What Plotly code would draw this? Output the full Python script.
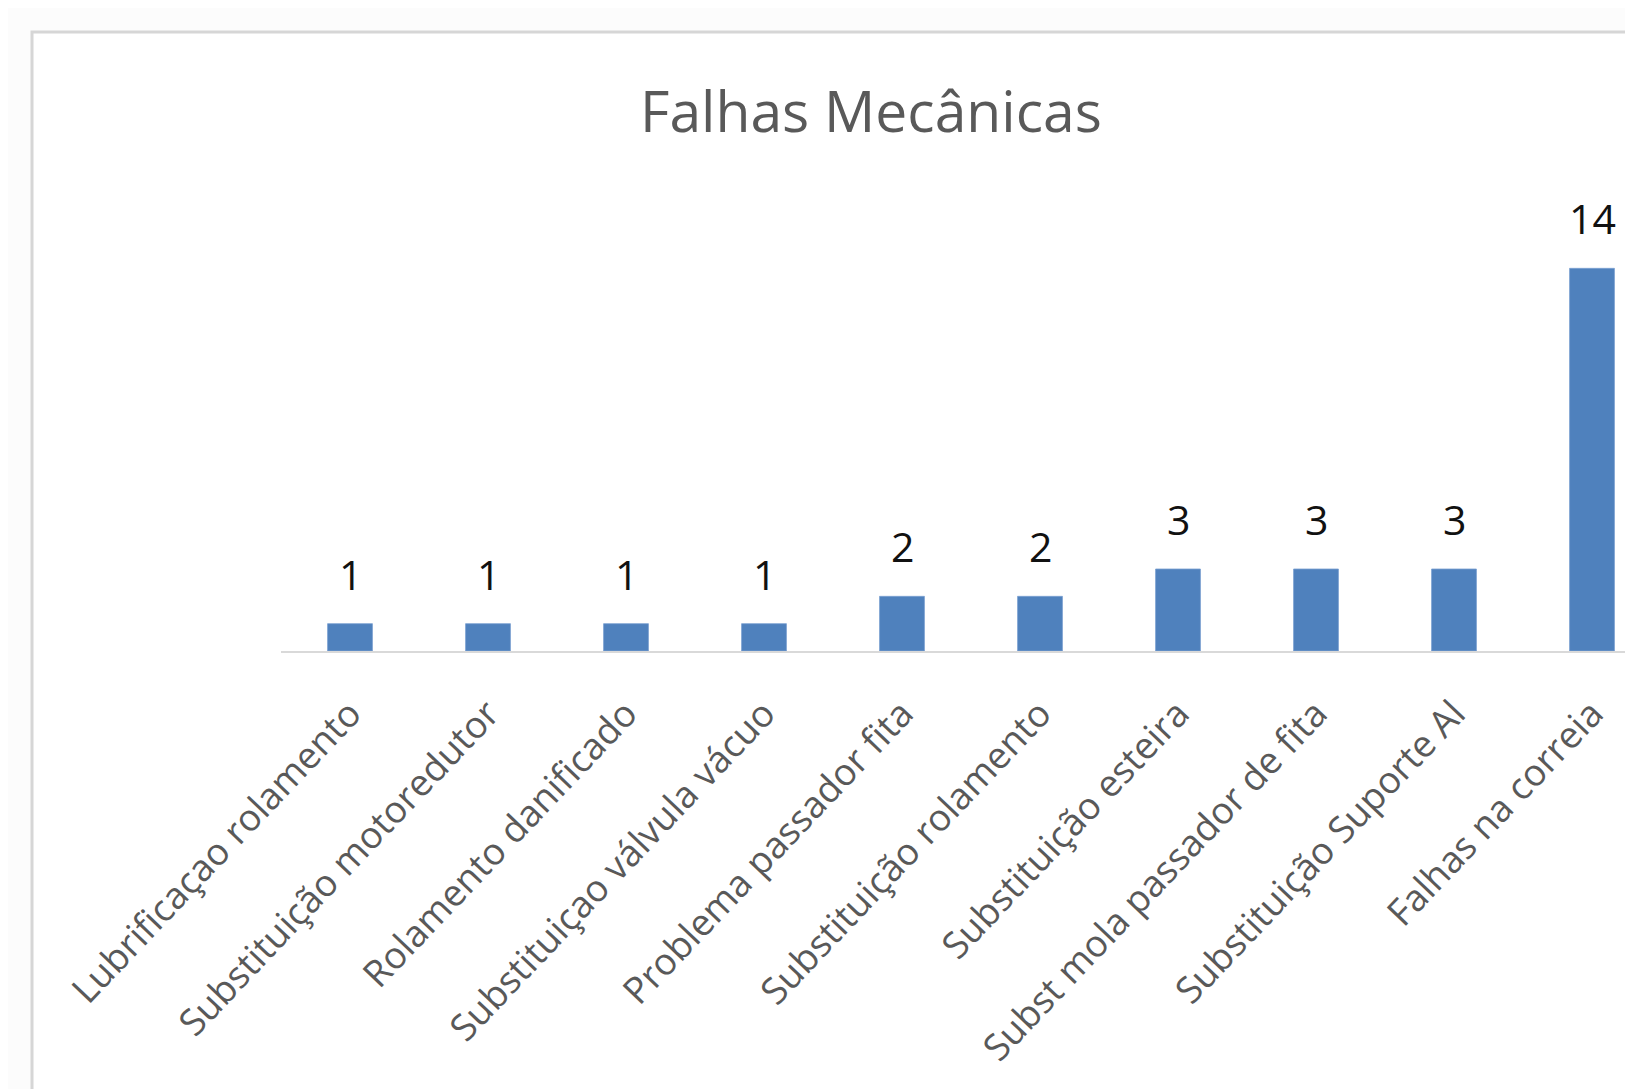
import plotly.graph_objects as go

categories = [
    "Lubrificaçao rolamento",
    "Substituição motoredutor",
    "Rolamento danificado",
    "Substituiçao válvula vácuo",
    "Problema passador fita",
    "Substituição rolamento",
    "Substituição esteira",
    "Subst mola passador de fita",
    "Substituição Suporte Al",
    "Falhas na correia",
]
values = [1, 1, 1, 1, 2, 2, 3, 3, 3, 14]
title_text = "Falhas Mecânicas"

# page has an 8px body margin; work in page coordinates and shift
O = 8
W, H = 1633 - O, 1089 - O
BASE = 651 - O          # baseline in figure coords
LEFT = 281 - O          # left of plot area in figure coords
UNIT_X = 138.0
ML, MB = LEFT, H - BASE
YMAX = 15
MT = BASE - int(round(YMAX * 27.33))
PW = W - ML
PH = H - MT - MB
XMAX = -0.5 + PW / UNIT_X

def px_x(p):  # page pixel -> paper
    return (p - O - ML) / PW

def px_y(p):
    return (BASE - (p - O)) / PH

fig = go.Figure()
fig.add_trace(go.Bar(
    x=categories,
    y=values,
    width=0.325,
    marker=dict(color="#4f81bd", line=dict(color="#7aa0d0", width=0.8)),
    hoverinfo="x+y",
))

annotations = [
    dict(x=c, y=v, xref="x", yref="y", text=str(v), showarrow=False,
         yanchor="middle", yshift=50,
         font=dict(family="Open Sans", size=41, color="#111111"))
    for c, v in zip(categories, values)
]
annotations.append(dict(
    x=px_x(871), y=px_y(110), xref="paper", yref="paper", text=title_text,
    showarrow=False, xanchor="center", yanchor="middle",
    font=dict(family="Open Sans", size=57, color="#595959"),
))

fig.update_layout(
    width=W, height=H,
    margin=dict(l=ML, r=0, t=MT, b=MB, pad=0),
    paper_bgcolor="#fcfcfc",
    plot_bgcolor="rgba(0,0,0,0)",
    showlegend=False,
    annotations=annotations,
    shapes=[dict(
        type="rect", xref="paper", yref="paper",
        x0=px_x(32), x1=1.2, y0=px_y(1300), y1=px_y(32),
        fillcolor="white", line=dict(color="#d6d6d6", width=3), layer="below",
    )],
    xaxis=dict(
        type="category",
        range=[-0.5, XMAX],
        showline=True, linecolor="#d9d9d9", linewidth=2,
        showgrid=False, zeroline=False,
        ticks="outside", ticklen=24, tickcolor="rgba(0,0,0,0)",
        tickangle=-46.5,
        tickfont=dict(family="Open Sans", size=37, color="#595959"),
    ),
    yaxis=dict(
        range=[0, YMAX], visible=False, showgrid=False, zeroline=False,
    ),
)

fig.write_html("out.html")
